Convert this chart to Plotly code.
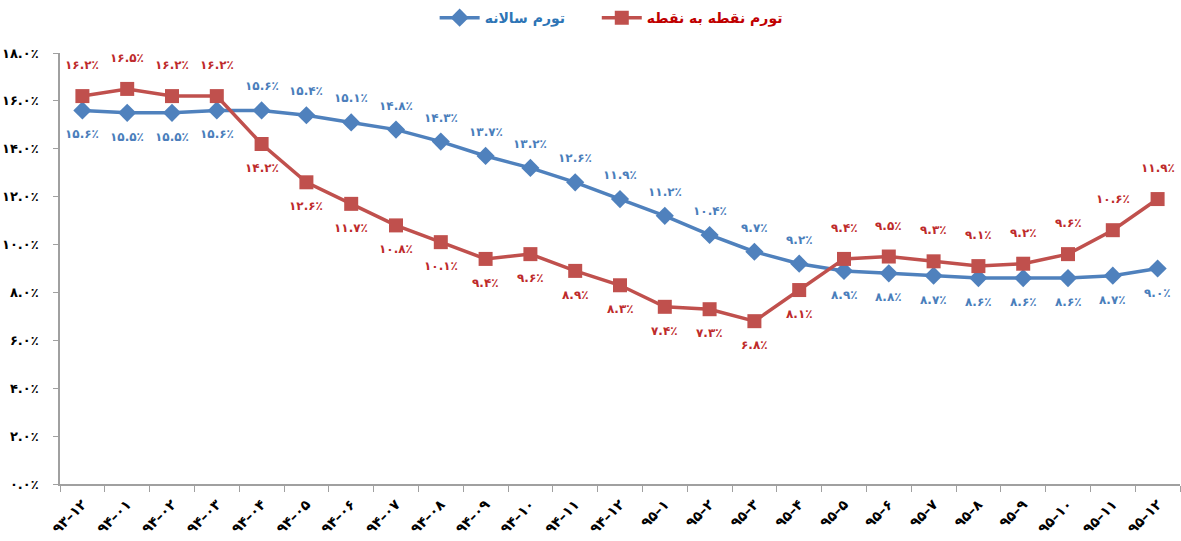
import plotly.graph_objects as go

months = ["93-12", "94-01", "94-02", "94-03", "94-04", "94-05", "94-06", "94-07",
          "94-08", "94-09", "94-10", "94-11", "94-12", "95-1", "95-2", "95-3",
          "95-4", "95-5", "95-6", "95-7", "95-8", "95-9", "95-10", "95-11", "95-12"]
annual = [15.6, 15.5, 15.5, 15.6, 15.6, 15.4, 15.1, 14.8, 14.3, 13.7, 13.2, 12.6, 11.9,
          11.2, 10.4, 9.7, 9.2, 8.9, 8.8, 8.7, 8.6, 8.6, 8.6, 8.7, 9.0]
point = [16.2, 16.5, 16.2, 16.2, 14.2, 12.6, 11.7, 10.8, 10.1, 9.4, 9.6, 8.9, 8.3,
         7.4, 7.3, 6.8, 8.1, 9.4, 9.5, 9.3, 9.1, 9.2, 9.6, 10.6, 11.9]
y_ticks = [0, 2, 4, 6, 8, 10, 12, 14, 16, 18]

FA = str.maketrans("0123456789%", "۰۱۲۳۴۵۶۷۸۹٪")


def fa(s):
    return s.translate(FA)


cats = [fa(m).replace("-", "–") for m in months]

BLUE = "#4F81BD"
RED = "#C0504D"
FONT = "DejaVu Sans"
GAP = "\u00a0" * 6  # extra room between the two legend entries

fig = go.Figure()
fig.add_trace(go.Scatter(
    x=cats, y=annual, mode="lines+markers",
    name="<span style='color:#2E75B6'><b>تورم سالانه</b></span>" + GAP,
    line=dict(color=BLUE, width=3.5),
    marker=dict(symbol="diamond", size=14, color=BLUE),
))
fig.add_trace(go.Scatter(
    x=cats, y=point, mode="lines+markers",
    name="<span style='color:#C00000'><b>تورم نقطه به نقطه</b></span>",
    line=dict(color=RED, width=3.5),
    marker=dict(symbol="square", size=14, color=RED),
))

# data labels: placed on the side away from the other series
for i, (a, p) in enumerate(zip(annual, point)):
    up = a > p
    fig.add_annotation(x=cats[i], y=a, text="<b>%s</b>" % fa("%.1f%%" % a),
                       showarrow=False, yshift=24 if up else -24,
                       font=dict(family=FONT, size=12, color="#4A7EBB"))
    fig.add_annotation(x=cats[i], y=p, text="<b>%s</b>" % fa("%.1f%%" % p),
                       showarrow=False, yshift=-24 if up else 31,
                       font=dict(family=FONT, size=12, color="#BE2B2B"))

fig.update_layout(
    width=1181, height=541,
    margin=dict(l=60, r=1, t=53, b=57),
    paper_bgcolor="white", plot_bgcolor="white",
    font=dict(family=FONT, size=12, color="black"),
    showlegend=True,
    legend=dict(orientation="h", x=0.3345, xanchor="left", y=1.081, yanchor="middle",
                font=dict(family=FONT, size=14), itemwidth=40),
)
fig.update_xaxes(
    type="category", range=[-0.5, len(cats) - 0.5], autorange=False,
    showgrid=False, showline=True, linecolor="#A0A0A0", linewidth=1.5,
    ticks="outside", tickson="boundaries", ticklen=6, tickcolor="#A0A0A0",
    tickangle=-45, automargin=False, ticklabelstandoff=5,
    tickfont=dict(family=FONT, size=14, color="black", weight="bold"),
)
fig.update_yaxes(
    range=[0, 18], tickvals=y_ticks, ticktext=[fa("%.1f%%" % v) for v in y_ticks],
    showgrid=False, zeroline=False, showline=True, linecolor="#A0A0A0", linewidth=1.5,
    ticks="outside", ticklen=5, tickcolor="#A0A0A0", automargin=False,
    ticklabelstandoff=12,
    tickfont=dict(family=FONT, size=13, color="black", weight="bold"),
)

fig.write_html("out.html", config={"displayModeBar": False},
               post_script="document.body.style.margin='0';")
